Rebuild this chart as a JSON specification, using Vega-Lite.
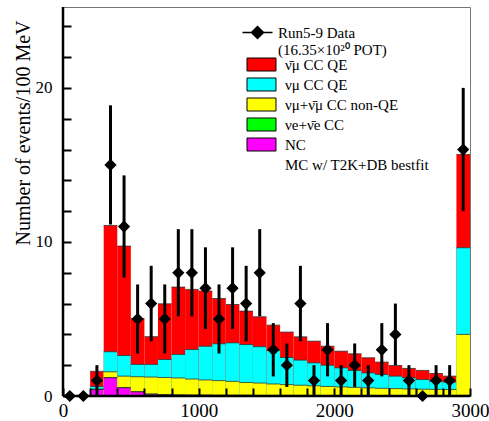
{
  "$schema": "https://vega.github.io/schema/vega-lite/v6.json",
  "width": 407,
  "height": 389,
  "autosize": {"type": "none"},
  "padding": {"left": 63, "top": 7, "right": 19, "bottom": 25},
  "background": "white",
  "config": {
    "view": {"stroke": "#777777", "strokeWidth": 1},
    "axis": {
      "grid": false,
      "domain": false,
      "zindex": 1,
      "tickColor": "black",
      "tickWidth": 2,
      "labelFont": "Liberation Serif",
      "labelColor": "black",
      "titleFont": "Liberation Serif",
      "titleColor": "black",
      "titleFontWeight": "normal"
    },
    "legend": {
      "labelFont": "Liberation Serif",
      "labelColor": "black",
      "labelFontSize": 15,
      "labelLimit": 0
    }
  },
  "datasets": {
    "mc": [
      {"lo": 200, "hi": 300, "NC": 0.42, "νe+ν̄e CC": 0.43, "νμ+ν̄μ CC non-QE": 0.45, "νμ CC QE": 0.62, "ν̄μ CC QE": 1.6},
      {"lo": 300, "hi": 400, "NC": 1.18, "νe+ν̄e CC": 1.2, "νμ+ν̄μ CC non-QE": 1.57, "νμ CC QE": 2.87, "ν̄μ CC QE": 11.07},
      {"lo": 400, "hi": 500, "NC": 0.53, "νe+ν̄e CC": 0.55, "νμ+ν̄μ CC non-QE": 1.29, "νμ CC QE": 2.63, "ν̄μ CC QE": 9.73},
      {"lo": 500, "hi": 600, "NC": 0.27, "νe+ν̄e CC": 0.28, "νμ+ν̄μ CC non-QE": 1.25, "νμ CC QE": 2.05, "ν̄μ CC QE": 5.03},
      {"lo": 600, "hi": 700, "NC": 0.12, "νe+ν̄e CC": 0.13, "νμ+ν̄μ CC non-QE": 1.23, "νμ CC QE": 2.05, "ν̄μ CC QE": 3.85},
      {"lo": 700, "hi": 800, "NC": 0.08, "νe+ν̄e CC": 0.09, "νμ+ν̄μ CC non-QE": 1.2, "νμ CC QE": 2.37, "ν̄μ CC QE": 5.98},
      {"lo": 800, "hi": 900, "NC": 0.06, "νe+ν̄e CC": 0.07, "νμ+ν̄μ CC non-QE": 1.17, "νμ CC QE": 2.7, "ν̄μ CC QE": 7.07},
      {"lo": 900, "hi": 1000, "NC": 0.05, "νe+ν̄e CC": 0.06, "νμ+ν̄μ CC non-QE": 1.1, "νμ CC QE": 3.02, "ν̄μ CC QE": 6.92},
      {"lo": 1000, "hi": 1100, "NC": 0.05, "νe+ν̄e CC": 0.06, "νμ+ν̄μ CC non-QE": 1.04, "νμ CC QE": 3.23, "ν̄μ CC QE": 6.81},
      {"lo": 1100, "hi": 1200, "NC": 0.04, "νe+ν̄e CC": 0.05, "νμ+ν̄μ CC non-QE": 1.0, "νμ CC QE": 3.39, "ν̄μ CC QE": 6.33},
      {"lo": 1200, "hi": 1300, "NC": 0.04, "νe+ν̄e CC": 0.05, "νμ+ν̄μ CC non-QE": 0.95, "νμ CC QE": 3.45, "ν̄μ CC QE": 5.94},
      {"lo": 1300, "hi": 1400, "NC": 0.04, "νe+ν̄e CC": 0.05, "νμ+ν̄μ CC non-QE": 0.88, "νμ CC QE": 3.34, "ν̄μ CC QE": 5.51},
      {"lo": 1400, "hi": 1500, "NC": 0.03, "νe+ν̄e CC": 0.04, "νμ+ν̄μ CC non-QE": 0.84, "νμ CC QE": 3.2, "ν̄μ CC QE": 5.14},
      {"lo": 1500, "hi": 1600, "NC": 0.03, "νe+ν̄e CC": 0.04, "νμ+ν̄μ CC non-QE": 0.78, "νμ CC QE": 2.95, "ν̄μ CC QE": 4.6},
      {"lo": 1600, "hi": 1700, "NC": 0.03, "νe+ν̄e CC": 0.04, "νμ+ν̄μ CC non-QE": 0.74, "νμ CC QE": 2.5, "ν̄μ CC QE": 4.15},
      {"lo": 1700, "hi": 1800, "NC": 0.03, "νe+ν̄e CC": 0.04, "νμ+ν̄μ CC non-QE": 0.7, "νμ CC QE": 2.33, "ν̄μ CC QE": 3.84},
      {"lo": 1800, "hi": 1900, "NC": 0.03, "νe+ν̄e CC": 0.04, "νμ+ν̄μ CC non-QE": 0.66, "νμ CC QE": 2.15, "ν̄μ CC QE": 3.56},
      {"lo": 1900, "hi": 2000, "NC": 0.02, "νe+ν̄e CC": 0.03, "νμ+ν̄μ CC non-QE": 0.62, "νμ CC QE": 2.0, "ν̄μ CC QE": 3.23},
      {"lo": 2000, "hi": 2100, "NC": 0.02, "νe+ν̄e CC": 0.03, "νμ+ν̄μ CC non-QE": 0.59, "νμ CC QE": 1.83, "ν̄μ CC QE": 2.91},
      {"lo": 2100, "hi": 2200, "NC": 0.02, "νe+ν̄e CC": 0.03, "νμ+ν̄μ CC non-QE": 0.56, "νμ CC QE": 1.66, "ν̄μ CC QE": 2.74},
      {"lo": 2200, "hi": 2300, "NC": 0.02, "νe+ν̄e CC": 0.03, "νμ+ν̄μ CC non-QE": 0.53, "νμ CC QE": 1.5, "ν̄μ CC QE": 2.48},
      {"lo": 2300, "hi": 2400, "NC": 0.02, "νe+ν̄e CC": 0.03, "νμ+ν̄μ CC non-QE": 0.5, "νμ CC QE": 1.4, "ν̄μ CC QE": 2.2},
      {"lo": 2400, "hi": 2500, "NC": 0.02, "νe+ν̄e CC": 0.03, "νμ+ν̄μ CC non-QE": 0.48, "νμ CC QE": 1.29, "ν̄μ CC QE": 1.98},
      {"lo": 2500, "hi": 2600, "NC": 0.02, "νe+ν̄e CC": 0.03, "νμ+ν̄μ CC non-QE": 0.46, "νμ CC QE": 1.18, "ν̄μ CC QE": 1.79},
      {"lo": 2600, "hi": 2700, "NC": 0.02, "νe+ν̄e CC": 0.03, "νμ+ν̄μ CC non-QE": 0.44, "νμ CC QE": 1.07, "ν̄μ CC QE": 1.66},
      {"lo": 2700, "hi": 2800, "NC": 0.01, "νe+ν̄e CC": 0.02, "νμ+ν̄μ CC non-QE": 0.43, "νμ CC QE": 0.96, "ν̄μ CC QE": 1.46},
      {"lo": 2800, "hi": 2900, "NC": 0.01, "νe+ν̄e CC": 0.02, "νμ+ν̄μ CC non-QE": 0.42, "νμ CC QE": 0.9, "ν̄μ CC QE": 1.29},
      {"lo": 2900, "hi": 3000, "NC": 0.02, "νe+ν̄e CC": 0.04, "νμ+ν̄μ CC non-QE": 4.0, "νμ CC QE": 9.62, "ν̄μ CC QE": 15.68}
    ],
    "obs": [
      {"e": 50, "n": 0, "lo": 0, "hi": 0, "src": "Run5-9 Data"},
      {"e": 150, "n": 0, "lo": 0, "hi": 0, "src": "Run5-9 Data"},
      {"e": 250, "n": 1, "lo": 0, "hi": 2, "src": "Run5-9 Data"},
      {"e": 350, "n": 15, "lo": 11.13, "hi": 18.87, "src": "Run5-9 Data"},
      {"e": 450, "n": 11, "lo": 7.68, "hi": 14.32, "src": "Run5-9 Data"},
      {"e": 550, "n": 5, "lo": 2.76, "hi": 7.24, "src": "Run5-9 Data"},
      {"e": 650, "n": 6, "lo": 3.55, "hi": 8.45, "src": "Run5-9 Data"},
      {"e": 750, "n": 5, "lo": 2.76, "hi": 7.24, "src": "Run5-9 Data"},
      {"e": 850, "n": 8, "lo": 5.17, "hi": 10.83, "src": "Run5-9 Data"},
      {"e": 950, "n": 8, "lo": 5.17, "hi": 10.83, "src": "Run5-9 Data"},
      {"e": 1050, "n": 7, "lo": 4.35, "hi": 9.65, "src": "Run5-9 Data"},
      {"e": 1150, "n": 5, "lo": 2.76, "hi": 7.24, "src": "Run5-9 Data"},
      {"e": 1250, "n": 7, "lo": 4.35, "hi": 9.65, "src": "Run5-9 Data"},
      {"e": 1350, "n": 6, "lo": 3.55, "hi": 8.45, "src": "Run5-9 Data"},
      {"e": 1450, "n": 8, "lo": 5.17, "hi": 10.83, "src": "Run5-9 Data"},
      {"e": 1550, "n": 3, "lo": 1.27, "hi": 4.73, "src": "Run5-9 Data"},
      {"e": 1650, "n": 2, "lo": 0.59, "hi": 3.41, "src": "Run5-9 Data"},
      {"e": 1750, "n": 6, "lo": 3.55, "hi": 8.45, "src": "Run5-9 Data"},
      {"e": 1850, "n": 1, "lo": 0, "hi": 2, "src": "Run5-9 Data"},
      {"e": 1950, "n": 3, "lo": 1.27, "hi": 4.73, "src": "Run5-9 Data"},
      {"e": 2050, "n": 1, "lo": 0, "hi": 2, "src": "Run5-9 Data"},
      {"e": 2150, "n": 2, "lo": 0.59, "hi": 3.41, "src": "Run5-9 Data"},
      {"e": 2250, "n": 1, "lo": 0, "hi": 2, "src": "Run5-9 Data"},
      {"e": 2350, "n": 3, "lo": 1.27, "hi": 4.73, "src": "Run5-9 Data"},
      {"e": 2450, "n": 4, "lo": 2, "hi": 6, "src": "Run5-9 Data"},
      {"e": 2550, "n": 1, "lo": 0, "hi": 2, "src": "Run5-9 Data"},
      {"e": 2650, "n": 0, "lo": 0, "hi": 0, "src": "Run5-9 Data"},
      {"e": 2750, "n": 1, "lo": 0, "hi": 2, "src": "Run5-9 Data"},
      {"e": 2850, "n": 1, "lo": 0, "hi": 2, "src": "Run5-9 Data"},
      {"e": 2950, "n": 16, "lo": 12, "hi": 20, "src": "Run5-9 Data"}
    ]
  },
  "layer": [
    {
      "data": {"name": "mc"},
      "transform": [{"fold": ["ν̄μ CC QE", "νμ CC QE", "νμ+ν̄μ CC non-QE", "νe+ν̄e CC", "NC"], "as": ["series", "top"]}],
      "mark": {"type": "bar"},
      "encoding": {
        "x": {
          "field": "lo", "type": "quantitative",
          "scale": {"domain": [0, 3000], "nice": false},
          "axis": {
            "title": null,
            "zindex": 1,
            "offset": -8,
            "tickSize": 8,
            "tickCount": 100,
            "labelOverlap": false,
            "values": [0, 200, 400, 600, 800, 1000, 1200, 1400, 1600, 1800, 2000, 2200, 2400, 2600, 2800, 3000],
            "labelExpr": "datum.value % 1000 === 0 ? format(datum.value, 'd') : ''",
            "labelPadding": 5,
            "labelFontSize": 19,
            "labelFlush": false
          }
        },
        "x2": {"field": "hi"},
        "y": {
          "field": "top", "type": "quantitative", "stack": null,
          "scale": {"domain": [0, 25.25], "nice": false, "zero": true},
          "axis": {
            "title": "Number of events/100 MeV",
            "zindex": 1,
            "offset": -8,
            "tickSize": 8,
            "tickCount": 100,
            "labelOverlap": false,
            "titleFontSize": 20,
            "titleAngle": -90,
            "titleAlign": "right",
            "titleBaseline": "bottom",
            "titleX": -38,
            "titleY": 13,
            "values": [0, 2, 4, 6, 8, 10, 12, 14, 16, 18, 20, 22, 24],
            "labelExpr": "datum.value % 10 === 0 ? format(datum.value, 'd') : ''",
            "labelPadding": 11,
            "labelFontSize": 17,
            "labelFlush": false
          }
        },
        "y2": {"datum": 0},
        "color": {
          "field": "series", "type": "nominal",
          "scale": {
            "domain": ["ν̄μ CC QE", "νμ CC QE", "νμ+ν̄μ CC non-QE", "νe+ν̄e CC", "NC", "MC w/ T2K+DB bestfit"],
            "range": ["#ff0000", "#00ffff", "#ffff00", "#00ff00", "#ff00ff", "transparent"]
          },
          "legend": {
            "title": null,
            "orient": "none",
            "legendX": 191,
            "legendY": 50,
            "symbolType": "M-2.23,-1H2.23V1H-2.23Z",
            "symbolSize": 169,
            "symbolStrokeColor": "black",
            "symbolStrokeWidth": 1,
            "symbolOpacity": 1,
            "labelOffset": 16,
            "rowPadding": 3,
            "encode": {
              "symbols": {
                "update": {
                  "stroke": {"signal": "datum.value === 'MC w/ T2K+DB bestfit' ? 'transparent' : 'black'"}
                }
              }
            }
          }
        }
      }
    },
    {
      "data": {"name": "mc"},
      "transform": [{"fold": ["ν̄μ CC QE", "νμ CC QE", "νμ+ν̄μ CC non-QE", "νe+ν̄e CC", "NC"], "as": ["series", "top"]}],
      "mark": {"type": "rule", "color": "#333333", "strokeWidth": 0.8},
      "encoding": {
        "x": {"field": "lo", "type": "quantitative"},
        "x2": {"field": "hi"},
        "y": {"field": "top", "type": "quantitative"}
      }
    },
    {
      "data": {"name": "obs"},
      "mark": {"type": "rule", "color": "black", "strokeWidth": 3},
      "encoding": {
        "x": {"field": "e", "type": "quantitative"},
        "y": {"field": "lo", "type": "quantitative"},
        "y2": {"field": "hi"}
      }
    },
    {
      "data": {"values": [{"v": 0}]},
      "mark": {"type": "rule", "color": "black", "strokeWidth": 2.5},
      "encoding": {"x": {"field": "v", "type": "quantitative"}}
    },
    {
      "data": {"values": [{"v": 0}]},
      "mark": {"type": "rule", "color": "black", "strokeWidth": 2.5},
      "encoding": {"y": {"field": "v", "type": "quantitative"}}
    },
    {
      "data": {"name": "obs"},
      "mark": {"type": "point", "filled": true, "color": "black", "size": 150, "shape": "diamond", "opacity": 1},
      "encoding": {
        "x": {"field": "e", "type": "quantitative"},
        "y": {"field": "n", "type": "quantitative"}
      }
    },
    {
      "data": {"name": "obs"},
      "transform": [{"filter": "datum.n < 0"}],
      "mark": {"type": "point", "filled": true, "fill": "black", "stroke": "black", "strokeWidth": 2.5, "size": 144, "shape": "M-2.5,0H2.5M0,-1L1,0L0,1L-1,0Z"},
      "encoding": {
        "x": {"field": "e", "type": "quantitative"},
        "y": {"field": "n", "type": "quantitative"},
        "opacity": {
          "field": "src", "type": "ordinal",
          "scale": {"domain": ["Run5-9 Data", "(16.35×10²⁰ POT)"], "range": [1, 0]},
          "legend": {
            "title": null,
            "orient": "none",
            "legendX": 187,
            "legendY": 18,
            "rowPadding": 0,
            "labelOffset": 13,
            "symbolSize": 144,
            "encode": {
              "labels": {"update": {"opacity": {"value": 1}}}
            }
          }
        }
      }
    }
  ]
}
